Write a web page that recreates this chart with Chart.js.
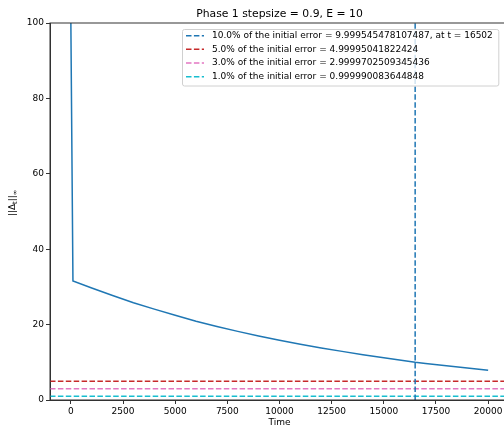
<!DOCTYPE html>
<html>
<head>
<meta charset="utf-8">
<script src="https://cdn.jsdelivr.net/npm/chart.js@4.4.1/dist/chart.umd.min.js"></script>
<style>
  html, body { margin: 0; padding: 0; background: #fff; }
  #wrap { width: 504px; height: 427px; overflow: hidden; }
</style>
</head>
<body>
<div id="wrap"><canvas id="myChart" width="520" height="427"></canvas></div>
<script>
// error curve
var times = [0, 100, 1000, 2000, 3000, 4000, 5000, 6000, 7000, 8000, 9000, 10000,
  11000, 12000, 13000, 14000, 15000, 16000, 16502, 17000, 18000, 19000, 20000];
var errors = [100, 31.6, 29.7, 27.7, 25.8, 24.1, 22.5, 20.9, 19.5, 18.2, 17.0, 15.85,
  14.8, 13.8, 12.9, 12.0, 11.2, 10.4, 10.0, 9.7, 9.1, 8.5, 7.9];

var thresholdLabels = [
  '10.0% of the initial error = 9.999545478107487, at t = 16502',
  '5.0% of the initial error = 4.99995041822424',
  '3.0% of the initial error = 2.9999702509345436',
  '1.0% of the initial error = 0.999990083644848'
];
var thresholdValues = [9.999545478107487, 4.99995041822424, 2.9999702509345436, 0.999990083644848];
var crossTime = 16502;
var thresholdColors = ['#1f77b4', '#c62a2a', '#e377c2', '#17becf'];

var xTicks = [0, 2500, 5000, 7500, 10000, 12500, 15000, 17500, 20000];
var yTicks = [0, 20, 40, 60, 80, 100];
var xMin = -1000, xMax = 21000, yMin = 0, yMax = 100;

var dash = [5.5, 2.4];

var datasets = [{
  label: 'error',
  data: times.map((t, i) => ({x: t, y: errors[i]})),
  borderColor: '#1f77b4',
  borderWidth: 1.5,
  pointRadius: 0,
  tension: 0
}];
// 10% crossing, vertical
datasets.push({
  label: thresholdLabels[0],
  data: [{x: crossTime, y: yMin}, {x: crossTime, y: yMax}],
  borderColor: thresholdColors[0],
  borderWidth: 1.5,
  borderDash: dash,
  pointRadius: 0
});
// the other levels, horizontal
for (var i = 1; i < thresholdValues.length; i++) {
  datasets.push({
    label: thresholdLabels[i],
    data: [{x: xMin, y: thresholdValues[i]}, {x: xMax, y: thresholdValues[i]}],
    borderColor: thresholdColors[i],
    borderWidth: 1.5,
    borderDash: dash,
    pointRadius: 0
  });
}

Chart.defaults.font.family = 'DejaVu Sans';
Chart.defaults.font.size = 9;
Chart.defaults.color = '#000';

var extras = {
  id: 'extras',
  afterDraw: (chart) => {
    var c = chart.ctx, a = chart.chartArea;
    c.save();
    // frame
    c.strokeStyle = '#333';
    c.lineWidth = 1;
    c.strokeRect(a.left, a.top, a.right - a.left, a.bottom - a.top);

    // title
    c.fillStyle = '#000';
    c.font = '10.8px "DejaVu Sans"';
    c.textAlign = 'center';
    c.textBaseline = 'middle';
    var mid = (a.left + a.right) / 2;
    c.fillText('Phase 1 stepsize = 0.9, E = 10', mid, 14);

    // x label
    c.font = '9px "DejaVu Sans"';
    c.fillText('Time', mid, 423);

    // y label ||Δt||∞
    c.translate(13, 203);
    c.rotate(-Math.PI / 2);
    c.textAlign = 'left';
    var parts = [['||Δ', 9, 0], ['t', 6.5, 2], ['||', 9, 0], ['∞', 6.5, 2]];
    var w = 0;
    parts.forEach(p => { c.font = p[1] + 'px "DejaVu Sans"'; w += c.measureText(p[0]).width; });
    var px = -w / 2;
    parts.forEach(p => {
      c.font = p[1] + 'px "DejaVu Sans"';
      c.fillText(p[0], px, p[2]);
      px += c.measureText(p[0]).width;
    });
    c.restore();

    // legend
    c.save();
    c.font = '9px "DejaVu Sans"';
    var bx = 182.5, by = 29.5, rowY = [35.7, 49.3, 62.9, 76.7];
    var tx = 212, maxW = 0;
    thresholdLabels.forEach(s => { maxW = Math.max(maxW, c.measureText(s).width); });
    var bw = tx + maxW + 6 - bx, bh = 86 - by;
    c.fillStyle = 'rgba(255,255,255,0.8)';
    c.strokeStyle = '#d0d0d0';
    c.lineWidth = 1;
    c.beginPath();
    c.roundRect(bx, by, bw, bh, 2);
    c.fill();
    c.stroke();
    c.textBaseline = 'middle';
    c.textAlign = 'left';
    thresholdLabels.forEach((s, k) => {
      c.strokeStyle = thresholdColors[k];
      c.lineWidth = 1.5;
      c.setLineDash(dash);
      c.beginPath();
      c.moveTo(186, rowY[k]);
      c.lineTo(204, rowY[k]);
      c.stroke();
      c.setLineDash([]);
      c.fillStyle = '#000';
      c.fillText(s, tx, rowY[k]);
    });
    c.restore();
  }
};

var chart = new Chart(document.getElementById('myChart'), {
  type: 'line',
  data: {datasets: datasets},
  plugins: [extras],
  options: {
    responsive: false,
    animation: false,
    devicePixelRatio: 1,
    layout: {padding: {top: 23, right: 11, left: 0, bottom: 0}},
    plugins: {legend: {display: false}, title: {display: false}, tooltip: {enabled: false}},
    scales: {
      x: {
        type: 'linear',
        min: xMin,
        max: xMax,
        afterBuildTicks: (s) => { s.ticks = xTicks.map(v => ({value: v})); },
        afterFit: (s) => { s.height = 27; },
        grid: {drawOnChartArea: false, drawTicks: true, tickLength: 4, color: '#333'},
        border: {display: true, color: '#333'},
        ticks: {padding: 2, maxRotation: 0, autoSkip: false, color: '#000', callback: (v) => String(v)}
      },
      y: {
        type: 'linear',
        min: yMin,
        max: yMax,
        afterBuildTicks: (s) => { s.ticks = yTicks.map(v => ({value: v})); },
        afterFit: (s) => { s.width = 50; },
        grid: {drawOnChartArea: false, drawTicks: true, tickLength: 4, color: '#333'},
        border: {display: true, color: '#333'},
        ticks: {padding: 2, color: '#000', callback: (v) => String(v)}
      }
    }
  }
});
</script>
</body>
</html>
